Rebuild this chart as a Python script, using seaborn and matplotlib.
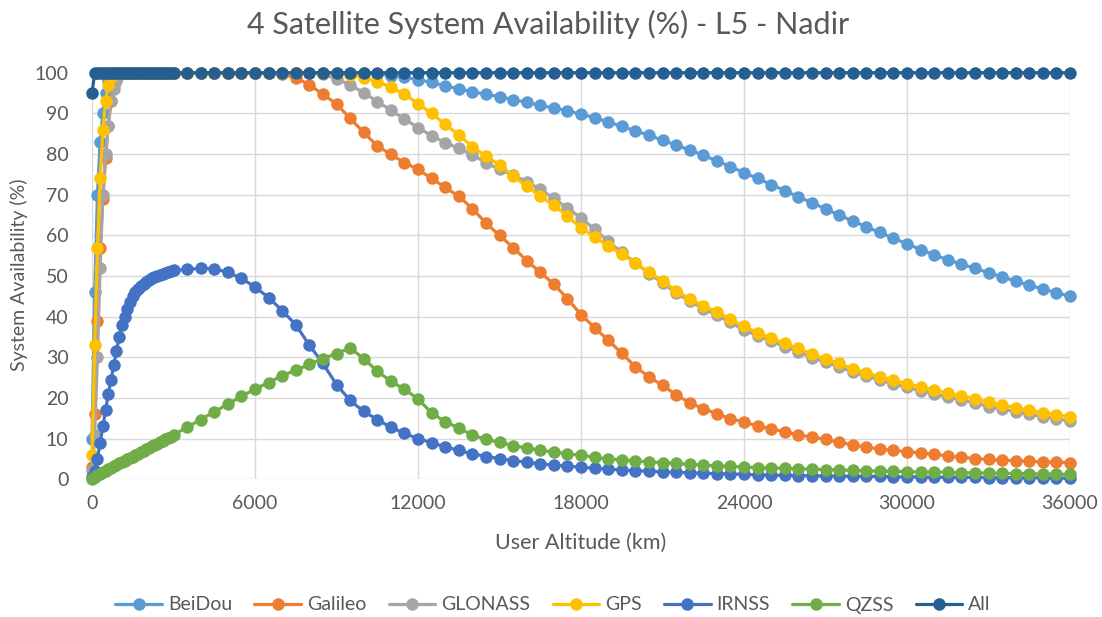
import matplotlib
matplotlib.use("Agg")
import matplotlib.pyplot as plt
from matplotlib.lines import Line2D
import pandas as pd
import seaborn as sns

# Sampling grid: 100 km steps up to 3000 km, then 500 km steps up to GEO altitude
altitude_km = list(range(0, 3001, 100)) + list(range(3500, 36001, 500))

beidou = [
    10, 46, 70, 83, 90, 95, 98, 99.5, 100, 100,
    100, 100, 100, 100, 100, 100, 100, 100, 100, 100,
    100, 100, 100, 100, 100, 100, 100, 100, 100, 100, 100,
    100, 100, 100, 100, 100, 100, 100, 100, 100, 100, 100, 100, 100, 100,
    99.7, 99.3, 98.9, 98.3, 97.6, 96.8, 96.0, 95.3, 94.7, 94.1,
    93.4, 92.7, 92.0, 91.3, 90.6, 89.8, 88.9, 87.9, 86.8, 85.7,
    84.6, 83.4, 82.2, 81.0, 79.7, 78.3, 76.9, 75.4, 74.0, 72.5,
    71.0, 69.5, 68.0, 66.5, 65.0, 63.5, 62.1, 60.7, 59.3, 57.9,
    56.5, 55.2, 54.0, 52.9, 51.9, 50.8, 49.8, 48.7, 47.7, 46.8,
    45.9, 45.0,
]

galileo = [
    3, 16, 39, 57, 69, 79, 87, 93, 97, 99,
    100, 100, 100, 100, 100, 100, 100, 100, 100, 100,
    100, 100, 100, 100, 100, 100, 100, 100, 100, 100, 100,
    100, 100, 100, 100, 100, 100, 100, 99.6,
    98.8, 97.0, 94.7, 92.3, 88.8, 85.3, 82.0, 79.9, 77.9, 76.2,
    74.0, 71.8, 69.6, 66.6, 63.0, 60.0, 57.0, 53.8, 50.9, 48.0,
    44.4, 40.5, 37.3, 34.2, 31.0, 27.7, 25.2, 23.1, 20.8, 18.8,
    17.4, 16.1, 14.9, 14.1, 13.1, 12.4, 11.7, 10.9, 10.4, 9.8,
    9.1, 8.5, 7.9, 7.5, 7.1, 6.8, 6.5, 6.1, 5.8, 5.4,
    5.1, 4.9, 4.7, 4.6, 4.4, 4.3, 4.2, 4.1,
]

glonass = [
    2, 11, 30, 52, 70, 80, 87, 93, 96, 98,
    99.5, 100, 100, 100, 100, 100, 100, 100, 100, 100,
    100, 100, 100, 100, 100, 100, 100, 100, 100, 100, 100,
    100, 100, 100, 100, 100, 100, 100, 100, 100, 100,
    99.6, 98.5, 97.0, 95.1, 92.9, 90.8, 88.6, 86.5, 84.5, 82.8,
    81.4, 79.8, 77.9, 76.2, 74.8, 73.2, 71.3, 69.1, 66.7, 64.3,
    61.5, 58.6, 55.8, 53.3, 50.6, 48.3, 45.8, 43.8, 42.0, 40.3,
    38.6, 36.7, 35.3, 34.0, 32.6, 31.4, 29.9, 28.8, 27.7, 26.4,
    25.4, 24.4, 23.5, 22.6, 21.8, 21.0, 20.2, 19.6, 18.8, 17.9,
    17.3, 16.6, 16.0, 15.4, 14.9, 14.4,
]

gps = [
    6, 33, 57, 74, 86, 93, 97, 99, 100, 100,
    100, 100, 100, 100, 100, 100, 100, 100, 100, 100,
    100, 100, 100, 100, 100, 100, 100, 100, 100, 100, 100,
    100, 100, 100, 100, 100, 100, 100, 100, 100, 100, 100, 100,
    99.5, 98.8, 97.8, 96.5, 94.7, 92.4, 90.0, 87.3, 84.7, 81.8,
    79.5, 77.3, 74.6, 72.1, 69.6, 67.4, 64.7, 61.8, 59.6, 57.4,
    55.4, 53.2, 50.9, 48.8, 46.4, 44.4, 42.7, 41.1, 39.4, 37.6,
    36.1, 34.8, 33.4, 32.2, 30.8, 29.6, 28.5, 27.2, 26.2, 25.2,
    24.4, 23.5, 22.7, 21.9, 21.2, 20.6, 19.8, 18.9, 18.3, 17.6,
    17.0, 16.4, 15.9, 15.4,
]

irnss = [
    0.5, 2, 5, 9, 13, 17, 21, 24.5, 28, 31.5,
    35, 38, 40, 42, 43.5, 45, 46, 46.8, 47.5, 48.1,
    48.6, 49, 49.4, 49.7, 50, 50.3, 50.6, 50.8, 51, 51.2, 51.4,
    51.6, 51.9, 51.8, 50.9, 49.4, 47.3, 44.7, 41.5, 38.0, 33.0,
    28.5, 23.3, 19.4, 16.7, 14.7, 12.8, 11.3, 10.0, 9.0, 8.0,
    7.1, 6.3, 5.6, 5.1, 4.6, 4.2, 3.8, 3.5, 3.2, 3.0,
    2.7, 2.5, 2.3, 2.1, 2.0, 1.8, 1.7, 1.6, 1.5, 1.4,
    1.3, 1.2, 1.1, 1.0, 1.0, 0.9, 0.9, 0.8, 0.8, 0.7,
    0.7, 0.7, 0.6, 0.6, 0.6, 0.5, 0.5, 0.5, 0.5, 0.4,
    0.4, 0.4, 0.4, 0.4, 0.3, 0.3,
]

qzss = [
    0, 0.6, 1.0, 1.4, 1.8, 2.1, 2.5, 2.8, 3.2, 3.5,
    3.9, 4.2, 4.6, 4.9, 5.3, 5.6, 6.0, 6.3, 6.7, 7.0,
    7.4, 7.7, 8.1, 8.4, 8.8, 9.1, 9.5, 9.8, 10.2, 10.5, 10.9,
    12.8, 14.7, 16.6, 18.5, 20.4, 22.2, 23.8, 25.5, 26.8, 28.3,
    29.7, 30.9, 32.3, 29.7, 26.6, 24.1, 22.1, 19.8, 16.3, 14.2,
    12.6, 10.9, 9.8, 9.1, 8.3, 7.7, 7.1, 6.7, 6.3, 5.9,
    5.4, 5.0, 4.8, 4.5, 4.3, 4.1, 3.9, 3.7, 3.5, 3.3,
    3.2, 3.0, 2.9, 2.8, 2.7, 2.6, 2.5, 2.4, 2.3, 2.2,
    2.1, 2.0, 2.0, 1.9, 1.8, 1.8, 1.7, 1.6, 1.6, 1.5,
    1.5, 1.4, 1.4, 1.3, 1.3, 1.2,
]

all_systems = [95] + [100] * 96

systems = ["BeiDou", "Galileo", "GLONASS", "GPS", "IRNSS", "QZSS", "All"]
colors = ["#5B9BD5", "#ED7D31", "#A5A5A5", "#FFC000", "#4472C4", "#70AD47", "#255E91"]
series = [beidou, galileo, glonass, gps, irnss, qzss, all_systems]

for name, vals in zip(systems, series):
    assert len(vals) == len(altitude_km), (name, len(vals))

frames = [
    pd.DataFrame({"altitude": altitude_km, "availability": vals, "system": name})
    for name, vals in zip(systems, series)
]
df = pd.concat(frames, ignore_index=True)

sns.set_theme(style="white")
plt.rcParams["font.family"] = ["Lato", "DejaVu Sans"]
text_color = "#595959"
grid_color = "#D9D9D9"

W, H = 1102, 617
fig = plt.figure(figsize=(W / 100, H / 100), dpi=100)
ax = fig.add_axes([92 / W, 1 - 479.3 / H, (1070 - 92) / W, (479.3 - 72.7) / H])

MS = 9
LW = 2.3
sns.lineplot(
    data=df, x="altitude", y="availability", hue="system",
    hue_order=systems, palette=colors, estimator=None, sort=False,
    marker="o", markersize=MS, markeredgewidth=0, linewidth=LW,
    legend=False, ax=ax,
)
for line in ax.lines:
    line.set_clip_on(False)

ax.set_xlim(0, 36000)
ax.set_ylim(0, 100)
ax.set_xticks(range(0, 36001, 6000))
ax.set_yticks(range(0, 101, 10))
ax.grid(True, color=grid_color, linewidth=1.0)
ax.set_axisbelow(True)
for s in ax.spines.values():
    s.set_visible(False)
ax.tick_params(axis="both", length=0, labelsize=14, colors=text_color)
ax.tick_params(axis="y", pad=17)
ax.tick_params(axis="x", pad=11)
ax.set_xlabel("")
ax.set_ylabel("")

fig.text(548 / W, 1 - 24 / H, "4 Satellite System Availability (%) - L5 - Nadir",
         ha="center", va="center", fontsize=22, color=text_color)
fig.text(581 / W, 1 - 543 / H, "User Altitude (km)",
         ha="center", va="center", fontsize=15.5, color=text_color)
fig.text(19 / W, 1 - 275 / H, "System Availability (%)", rotation=90,
         ha="center", va="center", fontsize=14, color=text_color)

handles = [
    Line2D([], [], color=c, marker="o", markersize=MS, markeredgewidth=0, linewidth=LW)
    for c in colors
]
fig.legend(handles, systems, loc="center", bbox_to_anchor=(553 / W, 1 - 605 / H),
           ncol=7, frameon=False, fontsize=14, handlelength=2.4, handletextpad=0.3,
           columnspacing=1.15, labelcolor=text_color)

fig.savefig("out.png", dpi=100)
